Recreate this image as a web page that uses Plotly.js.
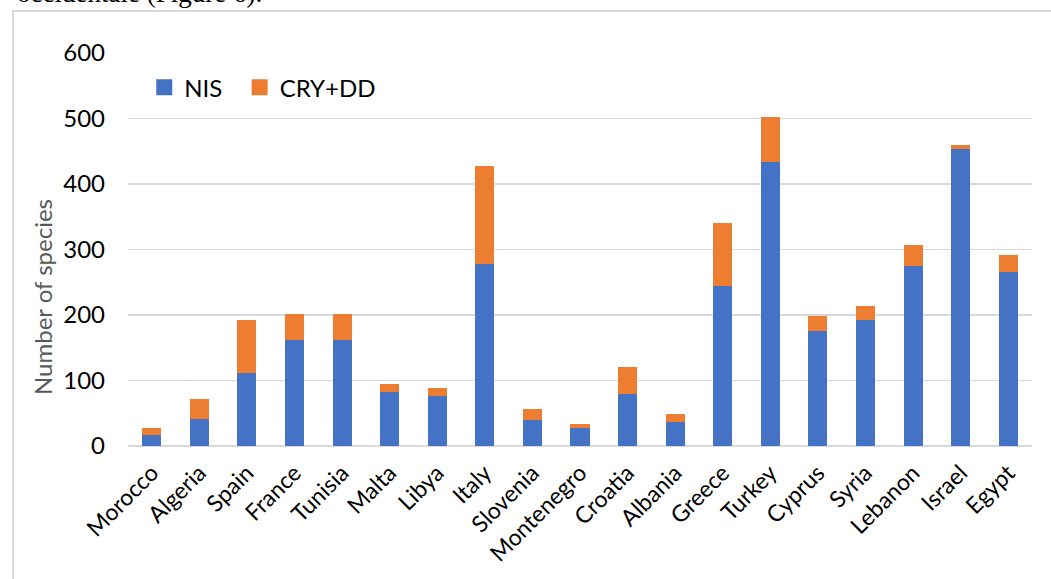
<!DOCTYPE html>
<html>
<head>
<meta charset="utf-8">
<script src="https://cdn.plot.ly/plotly-3.0.1.min.js"></script>
<style>
  html, body { margin: 0; padding: 0; background: #ffffff; overflow: hidden; }
  #frame { position: absolute; left: 12px; top: 10px; width: 1100px; height: 700px;
           border-left: 2px solid #d9d9d9; border-top: 2px solid #d9d9d9; box-sizing: border-box; }
  #chart { position: absolute; left: 0; top: 0; width: 1051px; height: 579px; }
</style>
</head>
<body>
<div id="frame"></div>
<div id="chart"></div>
<script>
const countries = ["Morocco","Algeria","Spain","France","Tunisia","Malta","Libya","Italy","Slovenia","Montenegro","Croatia","Albania","Greece","Turkey","Cyprus","Syria","Lebanon","Israel","Egypt"];
const nis    = [17, 41, 111, 162, 162, 82, 76, 278, 40, 27, 80, 37, 245, 433, 175, 193, 275, 453, 265];
const cryDD  = [10, 31, 82, 39, 39, 13, 13, 150, 17, 7, 41, 12, 95, 70, 23, 20, 32, 7, 26];
const yTicks = [0, 100, 200, 300, 400, 500, 600];
const seriesNames = ["NIS", "CRY+DD"];
const seriesColors = ["#4472C4", "#ED7D31"];
const caption = "occidentale (Figure 6).";

const FONT = "Lato, 'Open Sans', sans-serif";
const PAD = "\u00a0\u00a0"; // widen the first legend entry slightly

const traces = [
  { type: "bar", name: seriesNames[0], x: countries, y: nis, showlegend: false,
    marker: { color: seriesColors[0], line: { width: 0 } } },
  { type: "bar", name: seriesNames[1], x: countries, y: cryDD, showlegend: false,
    marker: { color: seriesColors[1], line: { width: 0 } } },
  // legend-only entries (no data) so the legend squares can be larger
  { type: "scatter", mode: "markers", name: seriesNames[0] + PAD, x: [null], y: [null],
    marker: { symbol: "square", size: 17, color: seriesColors[0] } },
  { type: "scatter", mode: "markers", name: seriesNames[1], x: [null], y: [null],
    marker: { symbol: "square", size: 17, color: seriesColors[1] } }
];

const layout = {
  width: 1051, height: 579,
  margin: { l: 128, r: 19, t: 53, b: 133 },
  paper_bgcolor: "rgba(0,0,0,0)",
  plot_bgcolor: "rgba(0,0,0,0)",
  barmode: "stack",
  bargap: 0.6,
  font: { family: FONT, color: "#000000", size: 23 },
  showlegend: true,
  legend: {
    orientation: "h", x: 0.018, y: 0.912, xanchor: "left", yanchor: "middle",
    font: { family: FONT, size: 24, color: "#000000" },
    bgcolor: "rgba(0,0,0,0)", traceorder: "normal", itemwidth: 30
  },
  xaxis: {
    type: "category", tickangle: -45, showgrid: false, zeroline: false,
    showline: false, ticks: "", ticklabelstandoff: 8,
    tickfont: { family: FONT, size: 23, color: "#000000" },
    fixedrange: true
  },
  yaxis: {
    range: [0, 600], tickvals: yTicks, ticktext: yTicks.map(String),
    showgrid: true, gridcolor: "#d9d9d9", gridwidth: 1.5,
    zeroline: true, zerolinecolor: "#d9d9d9", zerolinewidth: 1.5,
    showline: false, ticks: "", ticklabelstandoff: 22,
    tickfont: { family: FONT, size: 24, color: "#000000" },
    fixedrange: true
  },
  annotations: [
    { text: "Number of species", xref: "paper", yref: "paper",
      x: (42 - 128) / 904, y: (446 - 297) / 393, xanchor: "center", yanchor: "middle",
      textangle: -90, showarrow: false,
      font: { family: FONT, size: 24, color: "#595959" } },
    { text: caption, xref: "paper", yref: "paper",
      x: (15 - 128) / 904, y: (446 - 10) / 393, xanchor: "left", yanchor: "bottom",
      showarrow: false,
      font: { family: "'Liberation Serif', 'DejaVu Serif', serif", size: 27, color: "#000000" } }
  ]
};

Plotly.newPlot("chart", traces, layout, { displayModeBar: false, staticPlot: true });
</script>
</body>
</html>
